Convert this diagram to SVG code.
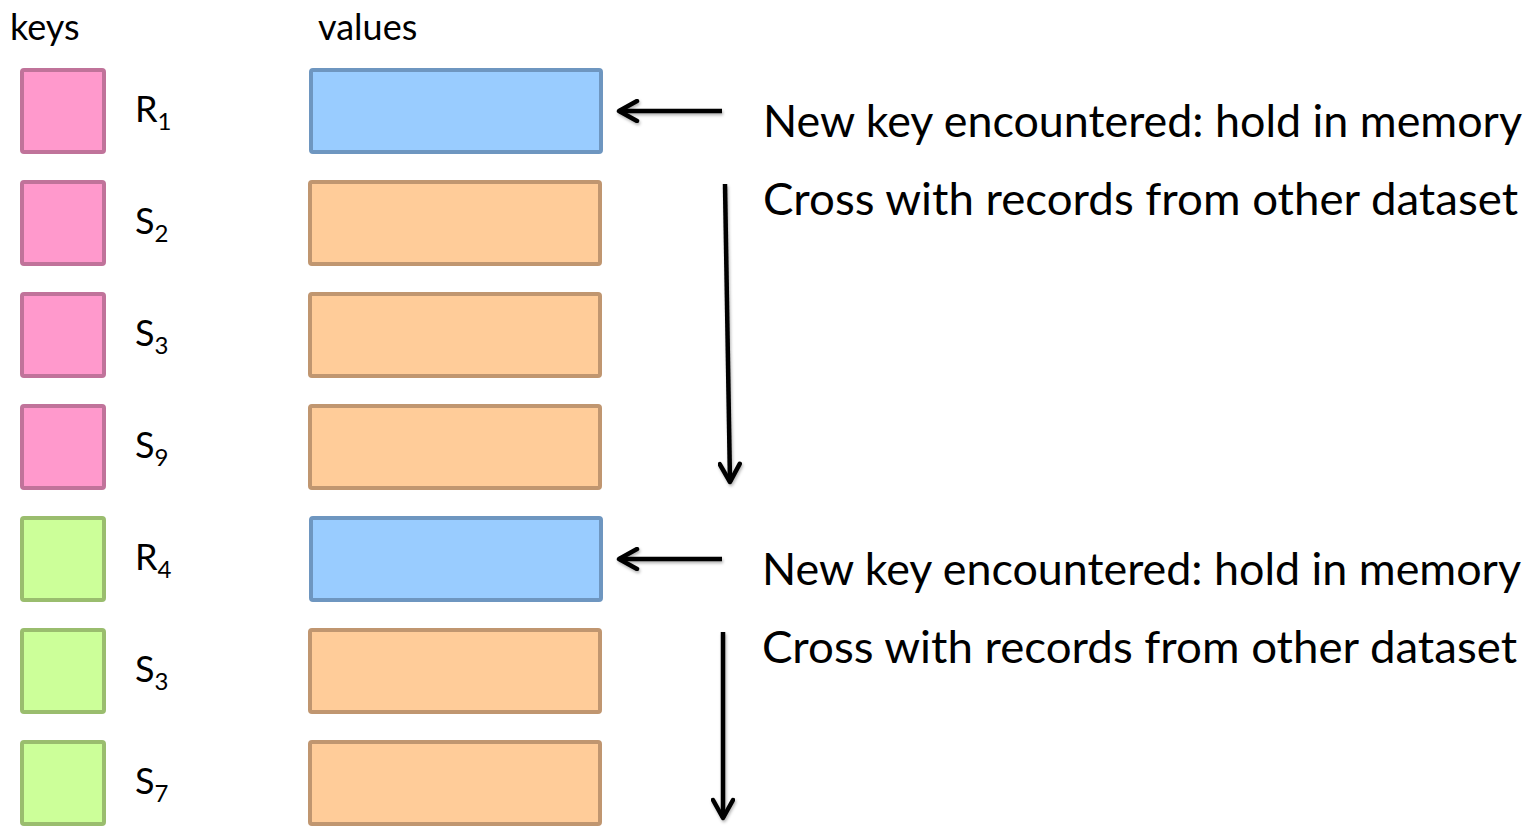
<svg xmlns="http://www.w3.org/2000/svg" width="1536" height="830" viewBox="0 0 1536 830">
<style>
text{font-family:Lato,"Open Sans","Liberation Sans",sans-serif;fill:#000}
.hdr{font-size:36px}
.lbl{font-size:36px}
.sub{font-size:24px}
.big{font-size:44px}
.box{stroke-width:4}
.pink{fill:#FF99CC;stroke:#C0739A}
.green{fill:#CCFF99;stroke:#9ABD6E}
.blue{fill:#99CCFF;stroke:#6E96C0}
.orange{fill:#FFCC99;stroke:#C09670}
.arr{stroke:#000;stroke-width:4.5;fill:none;marker-end:url(#ah);filter:url(#sh)}
</style>
<defs>
<marker id="ah" viewBox="0 0 26 24" refX="22" refY="12" markerWidth="26" markerHeight="24" orient="auto" markerUnits="userSpaceOnUse">
<path d="M4,2 L22,12 L4,22" fill="none" stroke="#000" stroke-width="4.5" stroke-linecap="round" stroke-linejoin="round"/>
</marker>
<filter id="sh" filterUnits="userSpaceOnUse" x="0" y="0" width="1536" height="830">
<feDropShadow dx="1" dy="2" stdDeviation="1.5" flood-color="#000" flood-opacity="0.3"/>
</filter>
</defs>
<rect width="1536" height="830" fill="#fff"/>
<text class="hdr" x="10" y="40">keys</text>
<text class="hdr" x="318" y="40">values</text>

<g id="row1"><rect class="box pink" x="22" y="70" width="82" height="82" rx="2"/><text class="lbl" x="135" y="122">R<tspan class="sub" dy="8">1</tspan></text><rect class="box blue" x="311" y="70" width="290" height="82" rx="2"/></g>
<g id="row2"><rect class="box pink" x="22" y="182" width="82" height="82" rx="2"/><text class="lbl" x="135" y="234">S<tspan class="sub" dy="8">2</tspan></text><rect class="box orange" x="310" y="182" width="290" height="82" rx="2"/></g>
<g id="row3"><rect class="box pink" x="22" y="294" width="82" height="82" rx="2"/><text class="lbl" x="135" y="346">S<tspan class="sub" dy="8">3</tspan></text><rect class="box orange" x="310" y="294" width="290" height="82" rx="2"/></g>
<g id="row4"><rect class="box pink" x="22" y="406" width="82" height="82" rx="2"/><text class="lbl" x="135" y="458">S<tspan class="sub" dy="8">9</tspan></text><rect class="box orange" x="310" y="406" width="290" height="82" rx="2"/></g>
<g id="row5"><rect class="box green" x="22" y="518" width="82" height="82" rx="2"/><text class="lbl" x="135" y="570">R<tspan class="sub" dy="8">4</tspan></text><rect class="box blue" x="311" y="518" width="290" height="82" rx="2"/></g>
<g id="row6"><rect class="box green" x="22" y="630" width="82" height="82" rx="2"/><text class="lbl" x="135" y="682">S<tspan class="sub" dy="8">3</tspan></text><rect class="box orange" x="310" y="630" width="290" height="82" rx="2"/></g>
<g id="row7"><rect class="box green" x="22" y="742" width="82" height="82" rx="2"/><text class="lbl" x="135" y="794">S<tspan class="sub" dy="8">7</tspan></text><rect class="box orange" x="310" y="742" width="290" height="82" rx="2"/></g>

<g id="connectors">
<path class="arr" d="M722,111 L619,111"/>
<path class="arr" d="M725,184 L730,482"/>
<path class="arr" d="M722,559 L619,559"/>
<path class="arr" d="M723,632 L723,818"/>
</g>

<g id="notes">
<text class="big" x="763" y="137" textLength="759" lengthAdjust="spacingAndGlyphs">New key encountered: hold in memory</text>
<text class="big" x="763" y="215" textLength="755" lengthAdjust="spacingAndGlyphs">Cross with records from other dataset</text>
<text class="big" x="762" y="585" textLength="759" lengthAdjust="spacingAndGlyphs">New key encountered: hold in memory</text>
<text class="big" x="762" y="663" textLength="755" lengthAdjust="spacingAndGlyphs">Cross with records from other dataset</text>
</g>
</svg>
